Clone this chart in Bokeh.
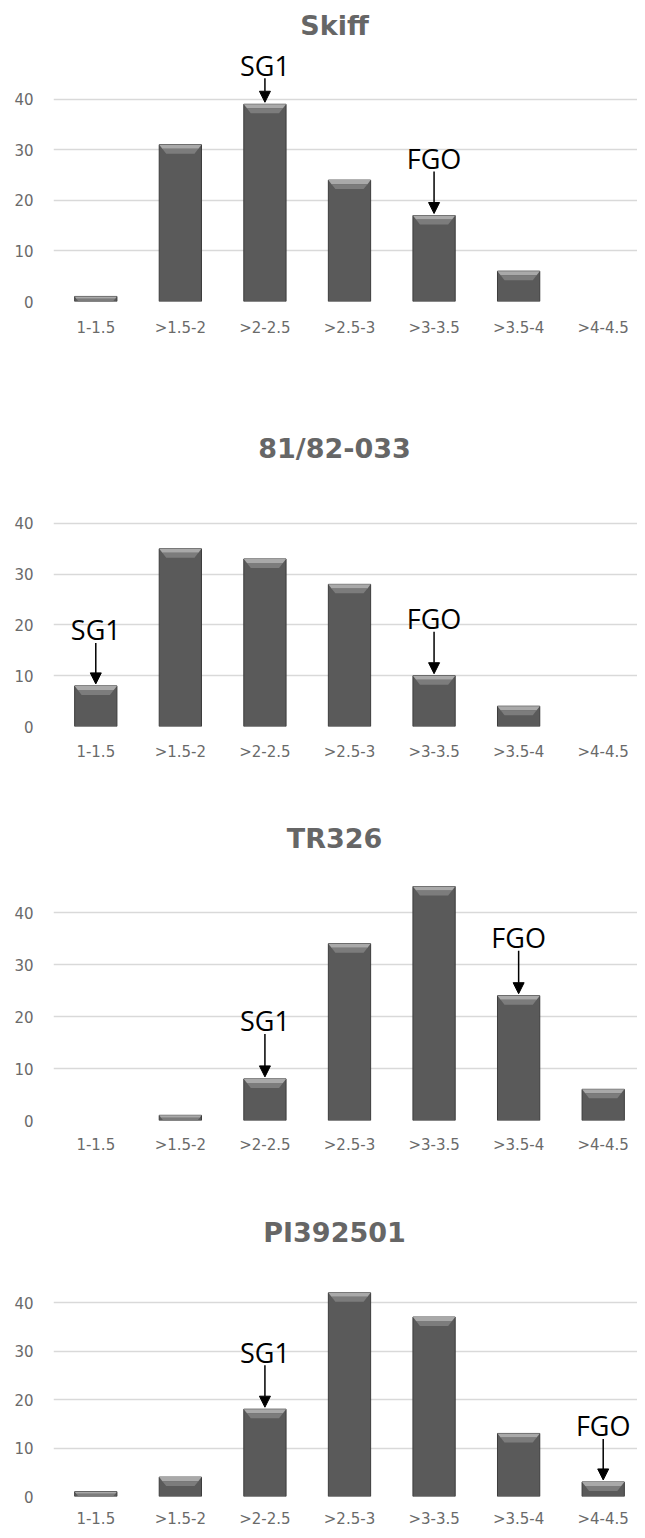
from bokeh.plotting import figure
from bokeh.layouts import column
from bokeh.models import Range1d, FixedTicker, Arrow, NormalHead
from bokeh.core.properties import value
from bokeh.embed import file_html
from bokeh.resources import INLINE

# ---------------- data ----------------
categories = ["1-1.5", ">1.5-2", ">2-2.5", ">2.5-3", ">3-3.5", ">3.5-4", ">4-4.5"]
titles = ["Skiff", "81/82-033", "TR326", "PI392501"]
skiff = [1, 31, 39, 24, 17, 6, 0]
line_81_82_033 = [8, 35, 33, 28, 10, 4, 0]
tr326 = [0, 1, 8, 34, 45, 24, 6]
pi392501 = [1, 4, 18, 42, 37, 13, 3]
series = [skiff, line_81_82_033, tr326, pi392501]
y_ticks = [0, 10, 20, 30, 40]
marker_labels = ["SG1", "FGO"]
sg1_category = [">2-2.5", "1-1.5", ">2-2.5", ">2-2.5"]
fgo_category = [">3-3.5", ">3-3.5", ">3.5-4", ">4-4.5"]

# ---------------- layout (pixels) ----------------
FIG_W = 637
LEFT = 53
XPX = 84.57                      # px per category slot
X_END = (FIG_W - LEFT) / XPX
panels = [
    dict(h=367, frame=301, k=5.0575, title_up=276, arrows=(24, 42), standoff=11),
    dict(h=415, frame=359, k=5.077, title_up=278, arrows=(41, 42), standoff=10),
    dict(h=385, frame=338, k=5.2, title_up=282, arrows=(43, 43), standoff=9),
    dict(h=363, frame=329, k=4.85, title_up=264, arrows=(42, 41), standoff=7),
]
TITLE_X = (334 - LEFT) / XPX     # title centre in category units

BAR_FILL = "#5a5a5a"
BAR_LINE = "#3c3c3c"
GRID = "#d9d9d9"
TICK_COL = "#6a6a6a"
TITLE_COL = "#666666"

centers = [i + 0.5 for i in range(len(categories))]


def make_panel(title, vals, sg1_cat, fgo_cat, cfg):
    k = cfg["k"]
    p = figure(width=FIG_W, height=cfg["h"], output_backend="svg",
               toolbar_location=None, tools="", title=None,
               x_range=Range1d(0, X_END),
               y_range=Range1d(0, cfg["frame"] / k),
               min_border_left=LEFT, min_border_right=0, min_border_top=0,
               min_border_bottom=cfg["h"] - cfg["frame"])
    p.outline_line_color = None
    p.background_fill_color = "white"
    p.border_fill_color = "white"

    p.xgrid.grid_line_color = None
    p.ygrid.ticker = FixedTicker(ticks=y_ticks)
    p.ygrid.grid_line_color = GRID
    p.ygrid.grid_line_width = 1.3

    p.yaxis.ticker = FixedTicker(ticks=y_ticks)
    p.xaxis.ticker = FixedTicker(ticks=centers)
    p.xaxis.major_label_overrides = {c: lab for c, lab in zip(centers, categories)}
    for ax in (p.xaxis[0], p.yaxis[0]):
        ax.axis_line_color = None
        ax.major_tick_line_color = None
        ax.minor_tick_line_color = None
        ax.major_label_text_color = TICK_COL
        ax.major_label_text_font = "DejaVu Sans"
        ax.major_label_text_font_size = "15px"
    p.yaxis.major_label_standoff = 14
    p.xaxis.major_label_standoff = cfg["standoff"]

    # bars
    p.vbar(x=centers, top=vals, width=0.5, bottom=0,
           fill_color=BAR_FILL, line_color=BAR_LINE, line_width=1,
           line_alpha=[1.0 if v > 0 else 0.0 for v in vals])

    # bevel on top of each bar (derived from the values)
    xs1, ys1, xs2, ys2 = [], [], [], []
    hw = 0.25
    dx = 7 / XPX
    full = 9 / k
    for c, v in zip(centers, vals):
        if v <= 0:
            continue
        h2 = min(full, v)
        h1 = h2 * 0.45
        in1 = dx * h1 / full
        in2 = dx * h2 / full
        xs1.append([c - hw, c + hw, c + hw - in1, c - hw + in1])
        ys1.append([v, v, v - h1, v - h1])
        xs2.append([c - hw + in1, c + hw - in1, c + hw - in2, c - hw + in2])
        ys2.append([v - h1, v - h1, v - h2, v - h2])
    if xs1:
        p.patches(xs1, ys1, fill_color="#a9a9a9", line_color=None)
        p.patches(xs2, ys2, fill_color="#7c7c7c", line_color=None)

    # title
    p.text(x=[TITLE_X], y=[cfg["title_up"] / k], text=[title],
           text_font=value("DejaVu Sans"), text_font_style="bold",
           text_font_size="27px", text_color=TITLE_COL,
           text_align="center", text_baseline="middle")

    # SG1 / FGO markers
    for lab, cat, L in zip(marker_labels, (sg1_cat, fgo_cat), cfg["arrows"]):
        i = categories.index(cat)
        c = centers[i]
        v = vals[i]
        y_tip = v + 2 / k
        y_start = y_tip + L / k
        p.add_layout(Arrow(end=NormalHead(size=11, fill_color="black",
                                          line_color="black", line_width=1),
                           x_start=c, y_start=y_start, x_end=c, y_end=y_tip,
                           line_color="black", line_width=1.5))
        p.text(x=[c], y=[y_start + 13 / k], text=[lab],
               text_font=value("Open Sans"), text_font_size="27px",
               text_color="black", text_align="center", text_baseline="middle")
    return p


figs = [make_panel(t, v, s, f, cfg)
        for t, v, s, f, cfg in zip(titles, series, sg1_category, fgo_category, panels)]
layout = column(*figs, spacing=0)

open("out.html", "w").write(file_html(layout, INLINE))
